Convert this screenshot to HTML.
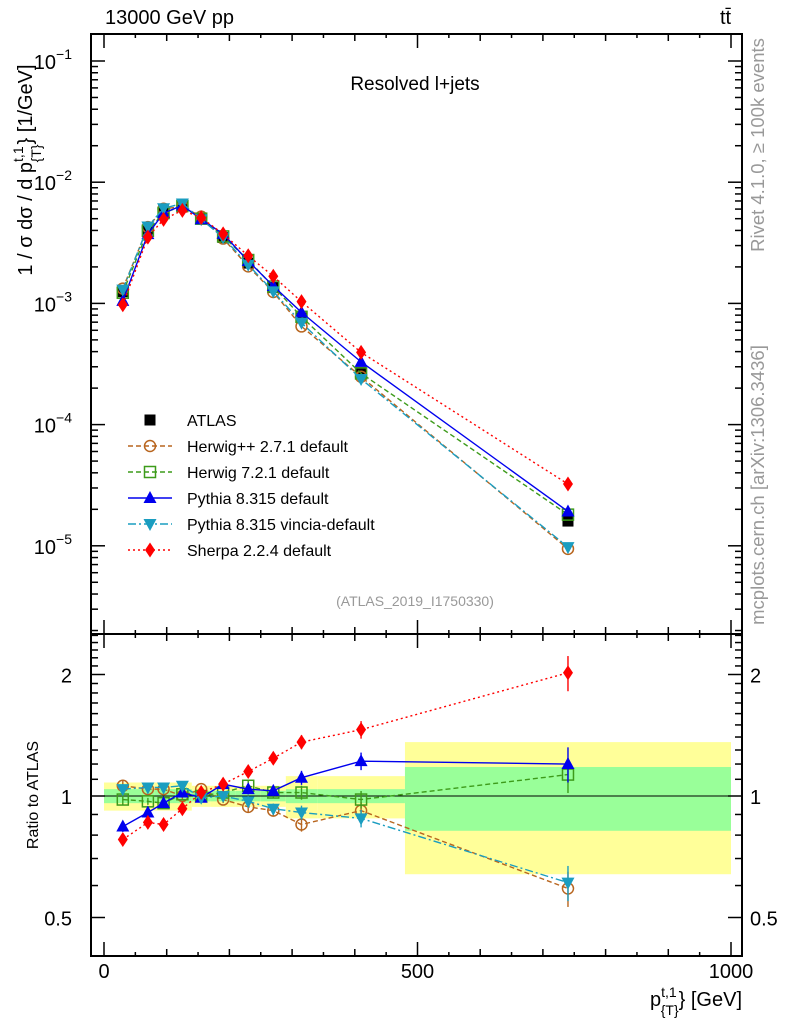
<!DOCTYPE html>
<html><head><meta charset="utf-8">
<style>
body{margin:0;background:#fff;}
svg{display:block;font-family:"Liberation Sans",Arial,sans-serif;}
</style></head>
<body>
<svg id="chart" width="786" height="1024" viewBox="0 0 786 1024" xmlns="http://www.w3.org/2000/svg">
<g id="bands"></g>
<g id="axes"></g>
<g id="series"></g>
<text x="105" y="24" font-size="20">13000 GeV pp</text>
<text x="720" y="24" font-size="20">tt̄</text>
<text x="415" y="90" font-size="19" text-anchor="middle">Resolved l+jets</text>
<text x="415" y="606" font-size="14" fill="#999" text-anchor="middle">(ATLAS_2019_I1750330)</text>
<text transform="translate(764,145) rotate(-90)" font-size="18.5" fill="#999" text-anchor="middle">Rivet 4.1.0, ≥ 100k events</text>
<text transform="translate(764,485) rotate(-90)" font-size="18.5" fill="#999" text-anchor="middle">mcplots.cern.ch [arXiv:1306.3436]</text>
<text transform="translate(32,170) rotate(-90)" font-size="20" text-anchor="middle">1 / σ dσ / d p<tspan font-size="14" dy="-9">t,1</tspan><tspan font-size="14" dx="-16" dy="18">{T}</tspan><tspan dy="-9">} [1/GeV]</tspan></text>
<text transform="translate(38,795) rotate(-90)" font-size="16" text-anchor="middle">Ratio to ATLAS</text>
<text x="742" y="1006" font-size="20" text-anchor="end">p<tspan font-size="14" dy="-9">t,1</tspan><tspan font-size="14" dx="-16" dy="18">{T}</tspan><tspan dy="-9">} [GeV]</tspan></text>
<g id="legend"></g>
</svg>
<script>
const edges=[0,60,80,110,140,170,210,250,290,340,480,1000];
const centers=[30,70,95,125,155,190,230,270,315,410,740];
const atlas=[1.25e-3,4.1e-3,5.8e-3,6.3e-3,5.0e-3,3.5e-3,2.15e-3,1.35e-3,7.6e-4,2.7e-4,1.6e-5];
const ratioHerwigpp=[1.06,1.04,1.04,1.0,1.04,0.98,0.94,0.92,0.85,0.92,0.59];
const ratioHerwig7=[0.98,0.97,0.96,1.01,1.0,1.02,1.06,1.02,1.02,0.98,1.13];
const ratioPythia=[0.84,0.91,0.96,1.02,0.99,1.07,1.04,1.03,1.11,1.22,1.20];
const ratioVincia=[1.04,1.05,1.05,1.06,0.99,1.0,0.97,0.93,0.91,0.88,0.61];
const ratioSherpa=[0.78,0.86,0.85,0.93,1.02,1.07,1.15,1.24,1.36,1.46,2.02];
const bandTotal=[0.08,0.08,0.08,0.08,0.06,0.06,0.06,0.06,0.12,0.12,0.36];
const bandStat=[0.04,0.04,0.04,0.04,0.03,0.03,0.03,0.03,0.04,0.04,0.18];
const ratioErr=[0.03,0.02,0.02,0.02,0.02,0.02,0.03,0.03,0.04,0.05,0.1];
const xTicks=[0,500,1000];
const yMainTicks=[-1,-2,-3,-4,-5];
const yRatioTicks=[2,1,0.5];

const NS="http://www.w3.org/2000/svg";
const L=91,R=742,T=34,MB=634,B=956;
const X=v=>104+v*0.627;
const Ym=v=>61-(Math.log10(v)+1)*121.2;
const Yr=v=>796-Math.log2(v)*121.5;
function mk(tag,attrs,parent){const e=document.createElementNS(NS,tag);for(const k in attrs)e.setAttribute(k,attrs[k]);parent.appendChild(e);return e;}
const ax=document.getElementById('axes'),bands=document.getElementById('bands'),ser=document.getElementById('series'),leg=document.getElementById('legend');

edges.slice(0,-1).forEach((e,i)=>{
  const x0=X(e),x1=X(edges[i+1]);
  const y=mk('rect',{x:x0,y:Yr(1+bandTotal[i]),width:x1-x0,height:Yr(1-bandTotal[i])-Yr(1+bandTotal[i]),fill:'#ffff99'},bands);
  
  
  const g=mk('rect',{x:x0,y:Yr(1+bandStat[i]),width:x1-x0,height:Yr(1-bandStat[i])-Yr(1+bandStat[i]),fill:'#99ff99'},bands);
  
  
});
mk('line',{x1:L,x2:R,y1:Yr(1),y2:Yr(1),stroke:'#000','stroke-width':1},ax);

mk('rect',{x:L,y:T,width:R-L,height:MB-T,fill:'none',stroke:'#000','stroke-width':2},ax);
mk('rect',{x:L,y:MB,width:R-L,height:B-MB,fill:'none',stroke:'#000','stroke-width':2},ax);
for(let v=0;v<=1000;v+=50){
  const len=v%500===0?14:(v%100===0?7:4);
  mk('line',{x1:X(v),x2:X(v),y1:B,y2:B-len,stroke:'#000','stroke-width':1.5},ax);
  mk('line',{x1:X(v),x2:X(v),y1:MB,y2:MB+len,stroke:'#000','stroke-width':1.5},ax);
  mk('line',{x1:X(v),x2:X(v),y1:T,y2:T+len,stroke:'#000','stroke-width':1.5},ax);
  mk('line',{x1:X(v),x2:X(v),y1:MB,y2:MB-len,stroke:'#000','stroke-width':1.5},ax);
}
xTicks.forEach(v=>{const t=mk('text',{x:X(v),y:978,'font-size':20,'text-anchor':'middle'},ax);t.textContent=v;

});
for(let d=-6;d<=-1;d++){for(let m=1;m<10;m++){const v=m*Math.pow(10,d);const y=Ym(v);if(y<T||y>MB)continue;
 const len=m===1?14:7;
 mk('line',{x1:L,x2:L+len,y1:y,y2:y,stroke:'#000','stroke-width':1.5},ax);
 mk('line',{x1:R,x2:R-len,y1:y,y2:y,stroke:'#000','stroke-width':1.5},ax);}}
yMainTicks.forEach(d=>{const t=mk('text',{x:72,y:Ym(Math.pow(10,d))+8,'font-size':20,'text-anchor':'end'},ax);
t.innerHTML='10<tspan font-size="14" dy="-10">−'+(-d)+'</tspan>';

});
[0.4,0.5,0.6,0.7,0.8,0.9,1,1.1,1.2,1.3,1.4,1.5,1.6,1.7,1.8,1.9,2,2.1,2.2,2.3,2.4,2.5].forEach(v=>{const y=Yr(v);if(y<MB||y>B)return;
 const len=(v===0.5||v===1||v===2)?14:7;
 mk('line',{x1:L,x2:L+len,y1:y,y2:y,stroke:'#000','stroke-width':1.5},ax);
 mk('line',{x1:R,x2:R-len,y1:y,y2:y,stroke:'#000','stroke-width':1.5},ax);});
yRatioTicks.forEach(v=>{[[72,'end'],[750,'start']].forEach(([x,a])=>{const t=mk('text',{x:x,y:Yr(v)+8,'font-size':20,'text-anchor':a},ax);t.textContent=v;

});});

function marker(type,x,y,color,parent){
  const s=5.5;
  if(type==='sq')return mk('rect',{x:x-s,y:y-s,width:2*s,height:2*s,fill:color},parent);
  if(type==='osq')return mk('rect',{x:x-s,y:y-s,width:2*s,height:2*s,fill:'none',stroke:color,'stroke-width':1.5},parent);
  if(type==='oc')return mk('circle',{cx:x,cy:y,r:s,fill:'none',stroke:color,'stroke-width':1.5},parent);
  if(type==='tu')return mk('path',{d:`M${x},${y-7}L${x+6.5},${y+5}L${x-6.5},${y+5}Z`,fill:color},parent);
  if(type==='td')return mk('path',{d:`M${x},${y+7}L${x+6.5},${y-5}L${x-6.5},${y-5}Z`,fill:color},parent);
  if(type==='di')return mk('path',{d:`M${x},${y-7.5}L${x+5},${y}L${x},${y+7.5}L${x-5},${y}Z`,fill:color},parent);
}
const series=[
 {name:'Herwig++ 2.7.1 default',r:ratioHerwigpp,c:'#b8651e',m:'oc',dash:'5,3',id:'herwigpp'},
 {name:'Herwig 7.2.1 default',r:ratioHerwig7,c:'#3d9b1a',m:'osq',dash:'5,3',id:'herwig7'},
 {name:'Pythia 8.315 default',r:ratioPythia,c:'#0000ee',m:'tu',dash:'',id:'pythia'},
 {name:'Pythia 8.315 vincia-default',r:ratioVincia,c:'#1a9dc0',m:'td',dash:'8,3,2,3',id:'vincia'},
 {name:'Sherpa 2.2.4 default',r:ratioSherpa,c:'#ff0000',m:'di',dash:'2,3',id:'sherpa'}
];
const ag=mk('g',{},ser);


atlas.forEach((v,i)=>{const p=marker('sq',X(centers[i]),Ym(v),'#000',ag);

});
series.forEach(s=>{
  const g=mk('g',{},ser);
  
  
  const mainPts=centers.map((c,i)=>[X(c),Ym(atlas[i]*s.r[i])]);
  const ratPts=centers.map((c,i)=>[X(c),Yr(s.r[i])]);
  [mainPts,ratPts].forEach((pts,k)=>{
    const l=mk('polyline',{points:pts.map(p=>p.join(',')).join(' '),fill:'none',stroke:s.c,'stroke-width':1.4,'stroke-dasharray':s.dash},g);
    
    
    pts.forEach((p,i)=>{
      if(k===1){const e=ratioErr[i];mk('line',{x1:p[0],x2:p[0],y1:Yr(s.r[i]*(1+e)),y2:Yr(s.r[i]*(1-e)),stroke:s.c,'stroke-width':1.4},g);}
      const m=marker(s.m,p[0],p[1],s.c,g);
      
      
    });
  });
});
const rows=[{name:'ATLAS',c:'#000',m:'sq',dash:'',noline:true}].concat(series);
rows.forEach((s,i)=>{
  const y=420+i*26;
  const g=mk('g',{},leg);
  
  
  if(!s.noline)mk('line',{x1:128,x2:172,y1:y,y2:y,stroke:s.c,'stroke-width':1.4,'stroke-dasharray':s.dash},g);
  marker(s.m,150,y,s.c,g);
  const t=mk('text',{x:187,y:y+6,'font-size':16},g);t.textContent=s.name;
});
</script>
</body></html>
